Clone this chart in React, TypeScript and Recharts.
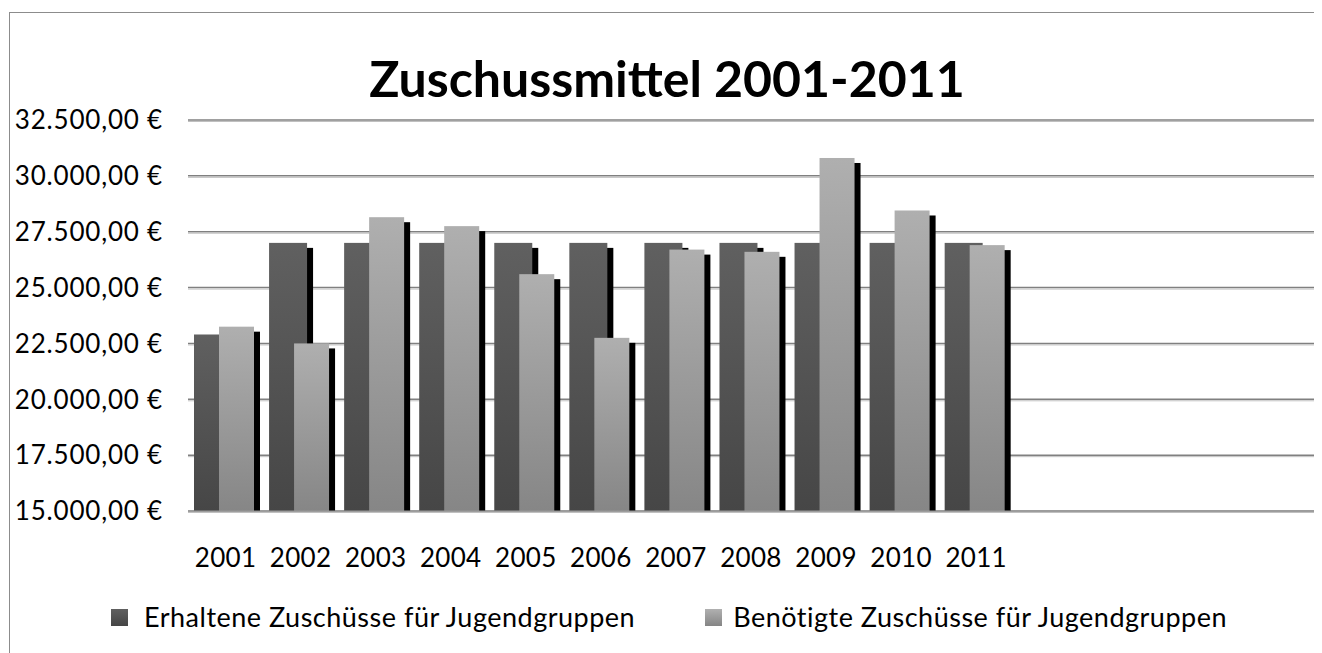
import { BarChart, Bar, XAxis, YAxis, CartesianGrid, Legend } from "recharts"

const years = ["2001", "2002", "2003", "2004", "2005", "2006", "2007", "2008", "2009", "2010", "2011", "", "", "", ""]
const erhalten = [22900, 27000, 27000, 27000, 27000, 27000, 27000, 27000, 27000, 27000, 27000, null, null, null, null]
const benoetigt = [23250, 22500, 28150, 27750, 25600, 22750, 26700, 26600, 30800, 28450, 26900, null, null, null, null]
const yTicks = [15000, 17500, 20000, 22500, 25000, 27500, 30000, 32500]

const seriesNames = ["Erhaltene Zuschüsse für Jugendgruppen", "Benötigte Zuschüsse für Jugendgruppen"]

const data = years.map((year, i) => ({ year, erhalten: erhalten[i], benoetigt: benoetigt[i] }))

const font = "Lato, 'Open Sans', sans-serif"

function euro(v: number) {
  const s = Math.round(v).toString().replace(/\B(?=(\d{3})+(?!\d))/g, ".")
  return `${s},00 €`
}

function shadowBar(drawWidth: number) {
  return (props: any) => {
    const { x, y, height, fill } = props
    if (!height || height <= 0) return <g />
    return (
      <g>
        <rect x={x + 6} y={y + 5} width={drawWidth} height={Math.max(height - 5, 0)} fill="#000" />
        <rect x={x} y={y} width={drawWidth} height={height} fill={fill} />
      </g>
    )
  }
}

function gridLine(props: any) {
  const { x1, x2, y1 } = props
  return (
    <g key={`g-${y1}`}>
      <line x1={x1} x2={x2} y1={y1} y2={y1} stroke="#808080" strokeWidth={1.5} />
      <line x1={x1} x2={x2} y1={y1 + 1.5} y2={y1 + 1.5} stroke="#c0c0c0" strokeWidth={1} />
    </g>
  )
}

function LegendBox() {
  const items = [
    { name: seriesNames[0], grad: "linear-gradient(#606060, #454545)", gap: 16 },
    { name: seriesNames[1], grad: "linear-gradient(#b0b0b0, #858585)", gap: 11 },
  ]
  return (
    <div style={{ display: "flex", justifyContent: "center", gap: 70, paddingLeft: 14, fontFamily: font, fontSize: 27, color: "#000", lineHeight: "32px", letterSpacing: 0.5 }}>
      {items.map((it) => (
        <div key={it.name} style={{ display: "flex", alignItems: "center" }}>
          <span style={{ display: "inline-block", width: 17, height: 17, background: it.grad, marginRight: it.gap }} />
          <span>{it.name}</span>
        </div>
      ))}
    </div>
  )
}

export default function App() {
  return (
    <div style={{ position: "relative", marginLeft: 1, marginTop: 4, width: 1304, height: 660, border: "1px solid #8c8c8c", background: "#fff" }}>
      <div style={{ position: "absolute", left: 0, top: 35, width: 1314, textAlign: "center", fontFamily: font, fontWeight: 700, fontSize: 50, lineHeight: "60px", color: "#000" }}>
        Zuschussmittel 2001-2011
      </div>
      <BarChart width={1304} height={640} data={data} margin={{ top: 107, right: 0, bottom: 82, left: 0 }} barSize={38} barGap={-13}>
        <defs>
          <linearGradient id="gDark" x1="0" y1="0" x2="0" y2="1">
            <stop offset="0%" stopColor="#606060" />
            <stop offset="100%" stopColor="#464646" />
          </linearGradient>
          <linearGradient id="gLight" x1="0" y1="0" x2="0" y2="1">
            <stop offset="0%" stopColor="#afafaf" />
            <stop offset="100%" stopColor="#868686" />
          </linearGradient>
        </defs>
        <CartesianGrid vertical={false} horizontal={gridLine} />
        <XAxis
          dataKey="year"
          height={60}
          tickLine={false}
          tickSize={0}
          tickMargin={38}
          axisLine={{ stroke: "#999", strokeWidth: 1 }}
          tick={{ fill: "#000", fontSize: 26, fontFamily: font, letterSpacing: 0.3 }}
          interval={0}
        />
        <YAxis
          width={178}
          domain={[15000, 32500]}
          ticks={yTicks}
          allowDataOverflow
          tickFormatter={euro}
          tickLine={false}
          tickSize={0}
          tickMargin={25}
          axisLine={false}
          tick={{ fill: "#000", fontSize: 26, fontFamily: font, letterSpacing: 0.8 }}
        />
        <Legend
          layout="horizontal"
          verticalAlign="middle"
          align="center"
          content={<LegendBox />}
          wrapperStyle={{ position: "absolute", left: 0, top: 588, width: 1304 }}
        />
        <Bar dataKey="erhalten" name={seriesNames[0]} fill="url(#gDark)" shape={shadowBar(38)} isAnimationActive={false} />
        <Bar dataKey="benoetigt" name={seriesNames[1]} fill="url(#gLight)" shape={shadowBar(35)} isAnimationActive={false} />
      </BarChart>
    </div>
  )
}
